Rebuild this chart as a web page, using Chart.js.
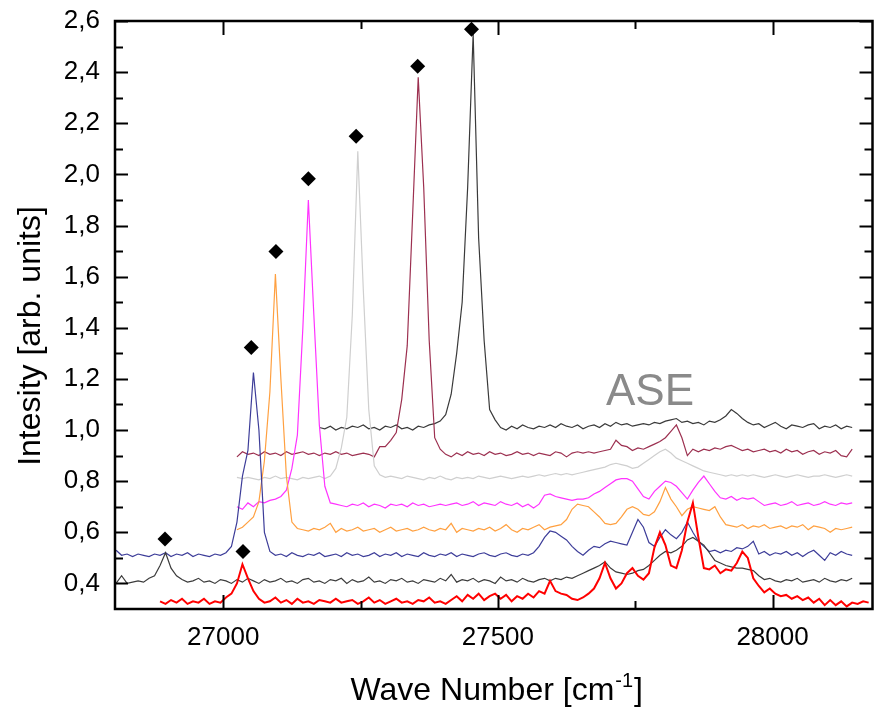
<!DOCTYPE html>
<html>
<head>
<meta charset="utf-8">
<script src="https://cdn.jsdelivr.net/npm/chart.js@4.4.1/dist/chart.umd.min.js"></script>
<style>
  html, body { margin: 0; padding: 0; background: #fff; overflow: hidden; }
  #wrap { position: absolute; left: 0; top: 0; width: 880px; height: 711px; }
</style>
</head>
<body>
<div id="wrap"><canvas id="spectra" width="880" height="711"></canvas></div>
<script>
// Sampling grid of the recorded spectra [cm^-1]
const waveNumbers = [
  26805, 26815, 26825, 26835, 26845, 26855, 26865, 26875, 26885, 26895,
  26905, 26915, 26925, 26935, 26945, 26955, 26965, 26975, 26985, 26995,
  27005, 27015, 27025, 27035, 27045, 27055, 27065, 27075, 27085, 27095,
  27105, 27115, 27125, 27135, 27145, 27155, 27165, 27175, 27185, 27195,
  27205, 27215, 27225, 27235, 27245, 27255, 27265, 27275, 27285, 27295,
  27305, 27315, 27325, 27335, 27345, 27355, 27365, 27375, 27385, 27395,
  27405, 27415, 27425, 27435, 27445, 27455, 27465, 27475, 27485, 27495,
  27505, 27515, 27525, 27535, 27545, 27555, 27565, 27575, 27585, 27595,
  27605, 27615, 27625, 27635, 27645, 27655, 27665, 27675, 27685, 27695,
  27705, 27715, 27725, 27735, 27745, 27755, 27765, 27775, 27785, 27795,
  27805, 27815, 27825, 27835, 27845, 27855, 27865, 27875, 27885, 27895,
  27905, 27915, 27925, 27935, 27945, 27955, 27965, 27975, 27985, 27995,
  28005, 28015, 28025, 28035, 28045, 28055, 28065, 28075, 28085, 28095,
  28105, 28115, 28125, 28135, 28145, 28155, 28165, 28175
];

// Spectra, each listed from its first recorded wave number
const blackFrom = 27175;
const blackSpectrum = [
  1.01, 1.005, 1.015, 1.0, 1.01, 1.005, 1.015, 1.01, 1.02, 1.005, 1.01, 1.0, 1.015,
  1.01, 1.02, 1.005, 1.01, 1.0, 1.015, 1.01, 1.02, 1.025, 1.035,
  1.06, 1.14, 1.3, 1.5, 1.95, 2.55, 1.75, 1.35, 1.08, 1.04,
  1.01, 1.0, 1.015, 1.005, 1.02, 1.01, 1.005, 1.015, 1.01, 1.02,
  1.01, 1.025, 1.015, 1.01, 1.02, 1.005, 1.015, 1.02, 1.01, 1.025,
  1.015, 1.03, 1.02, 1.025, 1.015, 1.02, 1.025, 1.02, 1.03, 1.025,
  1.035, 1.04, 1.045, 1.03, 1.035, 1.025, 1.03, 1.02, 1.035, 1.03,
  1.04, 1.055, 1.08, 1.065, 1.045, 1.03, 1.02, 1.025, 1.01, 1.02,
  1.03, 1.015, 1.005, 1.02, 1.015, 1.01, 1.02, 1.025, 1.005, 1.015,
  1.01, 1.02, 1.005, 1.015, 1.01
];

const maroonFrom = 27025;
const maroonSpectrum = [
  0.895, 0.915, 0.905, 0.91, 0.9, 0.915, 0.905, 0.91,
  0.9, 0.915, 0.905, 0.91, 0.915, 0.905, 0.91, 0.9, 0.91, 0.905,
  0.915, 0.905, 0.91, 0.9, 0.905, 0.91, 0.905, 0.895, 0.935, 0.935,
  0.96, 0.99, 1.12, 1.33, 1.85, 2.38, 1.95, 1.35, 0.97, 0.925,
  0.905, 0.895, 0.91, 0.9, 0.915, 0.905, 0.91, 0.9, 0.915, 0.905,
  0.91, 0.9, 0.905, 0.915, 0.905, 0.91, 0.9, 0.91, 0.905, 0.9,
  0.915, 0.91, 0.895, 0.91, 0.915, 0.91, 0.915, 0.91, 0.915, 0.92,
  0.925, 0.96, 0.94, 0.935, 0.92, 0.93, 0.925, 0.935, 0.945, 0.955,
  0.97, 0.995, 1.02, 0.97, 0.9, 0.925, 0.915, 0.925, 0.92, 0.93,
  0.925, 0.935, 0.94, 0.93, 0.92, 0.925, 0.915, 0.92, 0.925, 0.915,
  0.92, 0.91, 0.925, 0.915, 0.92, 0.905, 0.915, 0.92, 0.905, 0.915,
  0.91, 0.92, 0.9, 0.895, 0.925
];

const silverFrom = 27025;
const silverSpectrum = [
  0.815, 0.81, 0.815, 0.81, 0.805, 0.815, 0.81, 0.82,
  0.81, 0.815, 0.81, 0.805, 0.815, 0.81, 0.815, 0.82, 0.81, 0.82,
  0.85, 0.93, 1.05, 1.45, 2.09, 1.55, 1.08, 0.86, 0.825, 0.815,
  0.82, 0.815, 0.81, 0.82, 0.815, 0.81, 0.805, 0.815, 0.81, 0.82,
  0.81, 0.805, 0.815, 0.81, 0.815, 0.81, 0.82, 0.815, 0.81, 0.815,
  0.82, 0.815, 0.81, 0.815, 0.82, 0.815, 0.82, 0.825, 0.82, 0.825,
  0.83, 0.825, 0.83, 0.825, 0.83, 0.835, 0.84, 0.845, 0.85, 0.855,
  0.865, 0.87, 0.865, 0.86, 0.85, 0.855, 0.87, 0.885, 0.9, 0.915,
  0.925, 0.91, 0.89, 0.88, 0.87, 0.86, 0.85, 0.84, 0.835, 0.83,
  0.825, 0.82, 0.825, 0.82, 0.825, 0.82, 0.825, 0.82, 0.815, 0.82,
  0.825, 0.82, 0.815, 0.82, 0.825, 0.82, 0.815, 0.82, 0.82, 0.825,
  0.82, 0.815, 0.82, 0.825, 0.82
];

const magentaFrom = 27025;
const magentaSpectrum = [
  0.70, 0.69, 0.715, 0.70, 0.72, 0.715, 0.725, 0.73,
  0.74, 0.765, 0.85, 0.98, 1.40, 1.90, 1.45, 1.02, 0.78, 0.715,
  0.71, 0.705, 0.70, 0.71, 0.705, 0.715, 0.70, 0.71, 0.705, 0.695,
  0.71, 0.705, 0.71, 0.70, 0.715, 0.705, 0.71, 0.70, 0.705, 0.71,
  0.705, 0.71, 0.715, 0.705, 0.71, 0.72, 0.705, 0.715, 0.71, 0.705,
  0.72, 0.71, 0.705, 0.715, 0.70, 0.71, 0.695, 0.71, 0.745, 0.75,
  0.74, 0.735, 0.73, 0.725, 0.73, 0.73, 0.735, 0.75, 0.76, 0.775,
  0.79, 0.805, 0.81, 0.81, 0.80, 0.77, 0.74, 0.73, 0.76, 0.78,
  0.80, 0.795, 0.78, 0.755, 0.73, 0.765, 0.795, 0.82, 0.79, 0.76,
  0.735, 0.73, 0.74, 0.725, 0.735, 0.73, 0.735, 0.72, 0.705, 0.71,
  0.715, 0.705, 0.71, 0.72, 0.705, 0.71, 0.715, 0.705, 0.71, 0.72,
  0.71, 0.705, 0.715, 0.71, 0.715
];

const orangeFrom = 27025;
const orangeSpectrum = [
  0.61, 0.62, 0.64, 0.66, 0.72, 0.88, 1.15, 1.61,
  1.2, 0.82, 0.64, 0.615, 0.61, 0.605, 0.615, 0.61, 0.62, 0.635,
  0.6, 0.615, 0.605, 0.61, 0.62, 0.605, 0.61, 0.615, 0.6, 0.61,
  0.62, 0.605, 0.61, 0.615, 0.605, 0.61, 0.62, 0.61, 0.605, 0.615,
  0.61, 0.635, 0.6, 0.615, 0.61, 0.605, 0.615, 0.61, 0.62, 0.605,
  0.615, 0.63, 0.61, 0.6, 0.615, 0.61, 0.62, 0.63, 0.61, 0.62,
  0.625, 0.63, 0.65, 0.69, 0.71, 0.705, 0.70, 0.68, 0.66, 0.635,
  0.63, 0.635, 0.66, 0.69, 0.70, 0.69, 0.67, 0.665, 0.68, 0.72,
  0.775, 0.73, 0.70, 0.665, 0.69, 0.70, 0.695, 0.69, 0.685, 0.70,
  0.66, 0.63, 0.625, 0.62, 0.63, 0.615, 0.625, 0.62, 0.63, 0.615,
  0.62, 0.625, 0.615, 0.625, 0.62, 0.63, 0.61, 0.625, 0.62, 0.615,
  0.6, 0.615, 0.61, 0.615, 0.62
];

const navyFrom = 26805;
const navySpectrum = [
  0.53, 0.51, 0.515, 0.505, 0.515, 0.51, 0.505, 0.515, 0.51, 0.52,
  0.505, 0.515, 0.51, 0.52, 0.505, 0.515, 0.51, 0.505, 0.515, 0.51,
  0.52, 0.545, 0.64, 0.82, 0.92, 1.225, 1.0, 0.6, 0.525, 0.51,
  0.515, 0.505, 0.52, 0.51, 0.505, 0.515, 0.51, 0.52, 0.505, 0.51,
  0.515, 0.505, 0.52, 0.51, 0.515, 0.505, 0.51, 0.52, 0.505, 0.515,
  0.51, 0.52, 0.505, 0.515, 0.51, 0.505, 0.52, 0.51, 0.505, 0.515,
  0.51, 0.52, 0.505, 0.515, 0.51, 0.505, 0.515, 0.52, 0.51, 0.505,
  0.515, 0.52, 0.51, 0.505, 0.515, 0.51, 0.52, 0.545, 0.58, 0.605,
  0.6, 0.585, 0.57, 0.545, 0.525, 0.51, 0.53, 0.545, 0.54, 0.555,
  0.565, 0.56, 0.555, 0.55, 0.6, 0.65, 0.62, 0.56, 0.545, 0.58,
  0.61, 0.59, 0.575, 0.6, 0.64, 0.6, 0.565, 0.545, 0.525, 0.53,
  0.52, 0.53, 0.525, 0.54, 0.535, 0.545, 0.565, 0.515, 0.525, 0.51,
  0.52, 0.515, 0.525, 0.51, 0.52, 0.505, 0.52, 0.53, 0.51, 0.49,
  0.52, 0.51, 0.525, 0.515, 0.51
];

const grayFrom = 26805;
const graySpectrum = [
  0.40, 0.43, 0.40, 0.405, 0.41, 0.405, 0.42, 0.43, 0.47, 0.52,
  0.46, 0.43, 0.415, 0.405, 0.41, 0.42, 0.405, 0.41, 0.40, 0.415,
  0.41, 0.40, 0.415, 0.405, 0.42, 0.41, 0.40, 0.415, 0.405, 0.41,
  0.42, 0.405, 0.41, 0.40, 0.415, 0.42, 0.405, 0.41, 0.40, 0.415,
  0.41, 0.42, 0.40, 0.415, 0.405, 0.41, 0.425, 0.405, 0.41, 0.40,
  0.415, 0.41, 0.42, 0.405, 0.41, 0.40, 0.415, 0.41, 0.405, 0.42,
  0.41, 0.435, 0.405, 0.415, 0.41, 0.42, 0.405, 0.415, 0.41, 0.40,
  0.425, 0.41, 0.415, 0.405, 0.42, 0.41, 0.405, 0.415, 0.42, 0.41,
  0.42, 0.415, 0.425, 0.42, 0.43, 0.44, 0.45, 0.46, 0.47, 0.485,
  0.46, 0.445, 0.44, 0.435, 0.44, 0.45, 0.455, 0.47, 0.49, 0.51,
  0.525, 0.52, 0.53, 0.545, 0.57, 0.58, 0.565, 0.55, 0.52, 0.49,
  0.48, 0.47, 0.465, 0.46, 0.46, 0.455, 0.45, 0.43, 0.415, 0.42,
  0.41, 0.405, 0.415, 0.41, 0.42, 0.405, 0.41, 0.415, 0.405, 0.42,
  0.41, 0.405, 0.415, 0.41, 0.42
];

const redFrom = 26885;
const redSpectrum = [
  0.33, 0.32, 0.335, 0.325, 0.34, 0.32, 0.33, 0.325, 0.34, 0.32, 0.33, 0.325,
  0.345, 0.36, 0.40, 0.475, 0.42, 0.37, 0.34, 0.325, 0.33, 0.345,
  0.325, 0.335, 0.32, 0.34, 0.325, 0.33, 0.32, 0.335, 0.33, 0.325,
  0.34, 0.325, 0.33, 0.335, 0.32, 0.33, 0.345, 0.325, 0.335, 0.32,
  0.33, 0.34, 0.325, 0.33, 0.32, 0.335, 0.33, 0.345, 0.325, 0.33,
  0.32, 0.335, 0.35, 0.33, 0.355, 0.34, 0.36, 0.335, 0.35, 0.36,
  0.34, 0.355, 0.33, 0.35, 0.34, 0.36, 0.345, 0.37, 0.36, 0.41,
  0.37, 0.36, 0.355, 0.34, 0.335, 0.345, 0.36, 0.38, 0.42, 0.48,
  0.42, 0.38, 0.40, 0.44, 0.46, 0.43, 0.415, 0.44, 0.54, 0.60,
  0.55, 0.47, 0.46, 0.53, 0.64, 0.715, 0.58, 0.46, 0.455, 0.47,
  0.44, 0.455, 0.45, 0.48, 0.525, 0.50, 0.42, 0.39, 0.365, 0.38,
  0.36, 0.35, 0.355, 0.34, 0.35, 0.335, 0.345, 0.325, 0.34, 0.315,
  0.335, 0.315, 0.33, 0.31, 0.325, 0.32, 0.33, 0.325
];

// Laser line maxima (diamonds)
const peakWave = [26894, 27036, 27051, 27096, 27155, 27242, 27354, 27452];
const peakIntensity = [0.574, 0.525, 1.323, 1.698, 1.983, 2.149, 2.423, 2.568];

// Axes
const xMajorTicks = [27000, 27500, 28000];
const xTickLabels = ['27000', '27500', '28000'];
const xMinorTicks = [27250, 27750];
const yMajorTicks = [0.4, 0.6, 0.8, 1.0, 1.2, 1.4, 1.6, 1.8, 2.0, 2.2, 2.4, 2.6];
const yTickLabels = ['0,4', '0,6', '0,8', '1,0', '1,2', '1,4', '1,6', '1,8', '2,0', '2,2', '2,4', '2,6'];
const yMinorTicks = [0.5, 0.7, 0.9, 1.1, 1.3, 1.5, 1.7, 1.9, 2.1, 2.3, 2.5];

const xTitle = ['Wave Number [cm', '-1', ']'];
const yTitle = 'Intesity [arb. units]';
const aseLabel = 'ASE';
const aseAt = [27777, 1.098];

const FONT = '"Liberation Sans", Arial, Helvetica, sans-serif';

function spectrum(values, from, color, width) {
  const i0 = waveNumbers.indexOf(from);
  return {
    data: values.map((y, i) => ({ x: waveNumbers[i0 + i], y })),
    borderColor: color,
    borderWidth: width,
    pointRadius: 0,
    pointHoverRadius: 0,
    fill: false,
    tension: 0
  };
}

const near = (list, v) => list.findIndex(m => Math.abs(m - v) < 1e-6);

// Frame with inward ticks on all four sides, axis titles and the ASE note
const framePlugin = {
  id: 'frame',
  afterDraw(chart) {
    const { ctx, chartArea: a, scales: { x, y } } = chart;
    ctx.save();
    ctx.strokeStyle = '#000';
    ctx.lineWidth = 2;
    ctx.lineCap = 'butt';
    const xt = xMajorTicks.map(v => [v, 14]).concat(xMinorTicks.map(v => [v, 8]));
    xt.forEach(([v, len]) => {
      const px = Math.round(x.getPixelForValue(v)) + 0.5;
      ctx.beginPath();
      ctx.moveTo(px, a.bottom); ctx.lineTo(px, a.bottom - len);
      ctx.moveTo(px, a.top); ctx.lineTo(px, a.top + len);
      ctx.stroke();
    });
    const yt = yMajorTicks.map(v => [v, 13]).concat(yMinorTicks.map(v => [v, 8]));
    yt.forEach(([v, len]) => {
      const py = Math.round(y.getPixelForValue(v)) + 0.5;
      ctx.beginPath();
      ctx.moveTo(a.left, py); ctx.lineTo(a.left + len, py);
      ctx.moveTo(a.right, py); ctx.lineTo(a.right - len, py);
      ctx.stroke();
    });
    ctx.lineWidth = 2.5;
    ctx.strokeRect(a.left, a.top, a.right - a.left, a.bottom - a.top);

    // axis titles
    ctx.fillStyle = '#000';
    ctx.textBaseline = 'alphabetic';
    ctx.font = '32px ' + FONT;
    const w0 = ctx.measureText(xTitle[0]).width;
    const w2 = ctx.measureText(xTitle[2]).width;
    ctx.font = '20px ' + FONT;
    const w1 = ctx.measureText(xTitle[1]).width;
    const cx = (a.left + a.right) / 2 + 3;
    let tx = cx - (w0 + w1 + w2 + 2) / 2;
    const base = 700;
    ctx.textAlign = 'left';
    ctx.font = '32px ' + FONT;
    ctx.fillText(xTitle[0], tx, base);
    tx += w0 + 1;
    ctx.font = '20px ' + FONT;
    ctx.fillText(xTitle[1], tx, base - 13);
    tx += w1 + 1;
    ctx.font = '32px ' + FONT;
    ctx.fillText(xTitle[2], tx, base);

    ctx.save();
    ctx.translate(40, 336);
    ctx.rotate(-Math.PI / 2);
    ctx.textAlign = 'center';
    ctx.fillText(yTitle, 0, 0);
    ctx.restore();

    // ASE annotation
    ctx.font = '44px ' + FONT;
    ctx.fillStyle = '#8a8a8a';
    ctx.textAlign = 'center';
    ctx.fillText(aseLabel, x.getPixelForValue(aseAt[0]), y.getPixelForValue(aseAt[1]));
    ctx.restore();
  }
};

new Chart(document.getElementById('spectra'), {
  type: 'line',
  data: {
    datasets: [
      {
        data: peakWave.map((w, i) => ({ x: w, y: peakIntensity[i] })),
        showLine: false,
        pointStyle: 'rectRot',
        pointRadius: 7.5,
        pointHoverRadius: 7.5,
        backgroundColor: '#000',
        borderColor: '#000',
        borderWidth: 0
      },
      spectrum(redSpectrum, redFrom, '#ff0000', 2),
      spectrum(graySpectrum, grayFrom, '#3c3c3c', 1.2),
      spectrum(navySpectrum, navyFrom, '#3d3d99', 1.2),
      spectrum(orangeSpectrum, orangeFrom, '#ffa040', 1.2),
      spectrum(magentaSpectrum, magentaFrom, '#ff33ff', 1.2),
      spectrum(silverSpectrum, silverFrom, '#cfcfcf', 1.2),
      spectrum(maroonSpectrum, maroonFrom, '#9c3050', 1.2),
      spectrum(blackSpectrum, blackFrom, '#3a3a3a', 1.2)
    ]
  },
  options: {
    responsive: false,
    devicePixelRatio: 1,
    animation: false,
    events: [],
    layout: { padding: { left: 0, top: 21, right: 2, bottom: 0 } },
    plugins: { legend: { display: false }, tooltip: { enabled: false } },
    scales: {
      x: {
        type: 'linear',
        min: 26803,
        max: 28182,
        afterBuildTicks(s) { s.ticks = xMajorTicks.concat(xMinorTicks).sort((p, q) => p - q).map(v => ({ value: v })); },
        afterFit(s) { s.height = 102; s.paddingLeft = 0; s.paddingRight = 0; },
        grid: { display: false, drawTicks: false },
        border: { display: false },
        ticks: {
          autoSkip: false,
          maxRotation: 0,
          padding: 13,
          color: '#000',
          font: { family: FONT, size: 26 },
          callback(v) { const i = near(xMajorTicks, v); return i >= 0 ? xTickLabels[i] : ''; }
        }
      },
      y: {
        type: 'linear',
        min: 0.3,
        max: 2.6,
        afterBuildTicks(s) { s.ticks = yMajorTicks.concat(yMinorTicks).sort((p, q) => p - q).map(v => ({ value: v })); },
        afterFit(s) { s.width = 115; s.paddingTop = 0; s.paddingBottom = 0; },
        grid: { display: false, drawTicks: false },
        border: { display: false },
        ticks: {
          autoSkip: false,
          padding: 15,
          color: '#000',
          font: { family: FONT, size: 26 },
          callback(v) { const i = near(yMajorTicks, v); return i >= 0 ? yTickLabels[i] : ''; }
        }
      }
    }
  },
  plugins: [framePlugin]
});
</script>
</body>
</html>
